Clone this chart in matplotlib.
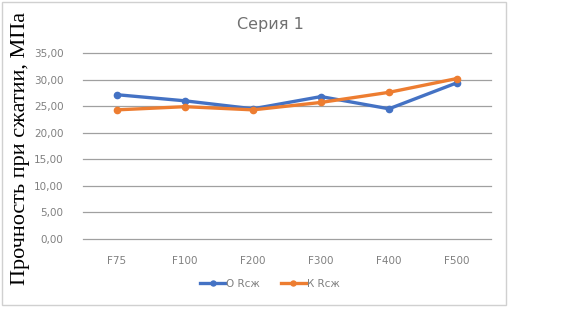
import matplotlib
matplotlib.use("Agg")
import matplotlib.pyplot as plt
from matplotlib.patches import Rectangle

categories = ["F75", "F100", "F200", "F300", "F400", "F500"]
o_rszh = [27.15, 26.0, 24.5, 26.8, 24.5, 29.4]
k_rszh = [24.3, 24.9, 24.3, 25.7, 27.6, 30.2]
yticks = [0, 5, 10, 15, 20, 25, 30, 35]
series_names = ["О Rсж", "К Rсж"]
title = "Серия 1"
ylabel = "Прочность при сжатии, МПа"

W, H = 579, 314
fig = plt.figure(figsize=(W / 100, H / 100), dpi=100)
fig.patch.set_facecolor("white")

# chart border
fig.patches.append(Rectangle((2 / W, 1 - 305 / H), 504 / W, 303 / H,
                             transform=fig.transFigure, fill=False,
                             edgecolor="#D0D0D0", linewidth=1.0))

ax = fig.add_axes([83 / W, 1 - 239 / H, 408 / W, 186 / H])
x = list(range(len(categories)))
ax.plot(x, o_rszh, color="#4472C4", lw=2.4, marker="o", ms=4.5,
        label=series_names[0], zorder=3)
ax.plot(x, k_rszh, color="#ED7D31", lw=2.4, marker="o", ms=4.5,
        label=series_names[1], zorder=3)

ax.set_xlim(-0.5, len(categories) - 0.5)
ax.set_ylim(0, 35)
ax.set_yticks(yticks)
ax.set_yticklabels([f"{v:.2f}".replace(".", ",") for v in yticks])
ax.set_xticks(x)
ax.set_xticklabels(categories)
ax.yaxis.grid(True, color="#A0A0A0", lw=0.9)
for gl in ax.yaxis.get_gridlines():
    gl.set_clip_on(False)
ax.set_axisbelow(True)
for s in ax.spines.values():
    s.set_visible(False)
ax.tick_params(length=0, labelsize=7.5, labelcolor="#808080", pad=8)
ax.tick_params(axis="x", pad=12)
ax.tick_params(axis="y", pad=14)

fig.text(270 / W, 1 - 24 / H, title, ha="center", va="center",
         fontsize=11.5, color="#707070", family="DejaVu Sans")
fig.text(21 / W, 1 - 148 / H, ylabel, rotation=90, ha="center", va="center",
         fontsize=16, family="Liberation Serif", color="black")

fig.legend(loc="center", bbox_to_anchor=(270 / W, 1 - 284 / H), ncol=2,
           frameon=False, fontsize=7.5, labelcolor="#808080",
           handlelength=2.4, handletextpad=0.1, columnspacing=2.0,
           markerscale=0.8)

fig.savefig("out.png", dpi=100, facecolor="white")
